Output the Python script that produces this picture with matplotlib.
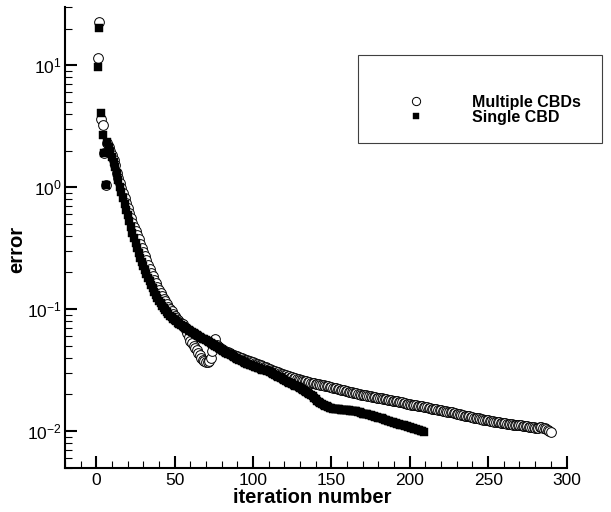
import numpy as np
import matplotlib
matplotlib.use("Agg")
import matplotlib.pyplot as plt
from matplotlib.patches import Rectangle
from matplotlib.ticker import LogLocator, MultipleLocator, NullFormatter

plt.rcParams['font.family'] = ['Liberation Sans', 'DejaVu Sans']
plt.rcParams['mathtext.fontset'] = 'custom'
plt.rcParams['mathtext.rm'] = 'Liberation Sans'
plt.rcParams['mathtext.it'] = 'Liberation Sans:italic'
plt.rcParams['mathtext.bf'] = 'Liberation Sans:bold'

# Convergence history: error per iteration
single_cbd = [
    9.8, 20.3, 4.05, 2.7, 1.9, 1.05, 2.35, 2.15, 1.95, 1.78,
    1.62, 1.47, 1.30, 1.14, 1.01, 0.91, 0.82, 0.73, 0.65, 0.59,
    0.53, 0.47, 0.42, 0.385, 0.35, 0.32, 0.29, 0.265, 0.245, 0.228,
    0.21, 0.195, 0.181, 0.169, 0.158, 0.148, 0.139, 0.130, 0.123, 0.117,
    0.112, 0.107, 0.103, 0.099, 0.095, 0.0915, 0.0885, 0.0857, 0.0832, 0.081,
    0.0792, 0.0775, 0.0758, 0.0742, 0.0727, 0.0712, 0.0698, 0.0684, 0.0671, 0.0659,
    0.0647, 0.0635, 0.0623, 0.0611, 0.0600, 0.0591, 0.0582, 0.0574, 0.0566, 0.0558,
    0.0549, 0.0539, 0.0529, 0.0518, 0.0508, 0.0498, 0.0488, 0.0478, 0.0469, 0.0460,
    0.0452, 0.0445, 0.0438, 0.0432, 0.0426, 0.0419, 0.0413, 0.0406, 0.0400, 0.0393,
    0.0386, 0.0380, 0.0374, 0.0368, 0.0362, 0.0357, 0.0352, 0.0348, 0.0345, 0.0342,
    0.0338, 0.0334, 0.0330, 0.0326, 0.0322, 0.0319, 0.0316, 0.0314, 0.0312, 0.0309,
    0.0305, 0.0300, 0.0295, 0.0290, 0.0285, 0.0280, 0.0275, 0.0270, 0.0266, 0.0262,
    0.0258, 0.0254, 0.0250, 0.0246, 0.0242, 0.0239, 0.0236, 0.0233, 0.0229, 0.0225,
    0.0222, 0.0219, 0.0215, 0.0211, 0.0207, 0.0202, 0.0197, 0.0192, 0.0187, 0.0182,
    0.0178, 0.0174, 0.0170, 0.0167, 0.0164, 0.0161, 0.0159, 0.0157, 0.0155, 0.0154,
    0.0153, 0.0152, 0.0152, 0.0151, 0.0151, 0.0150, 0.0150, 0.0149, 0.0149, 0.0148,
    0.0148, 0.0147, 0.0147, 0.0146, 0.0146, 0.0145, 0.0144, 0.0142, 0.0140, 0.0139,
    0.0139, 0.0138, 0.0137, 0.0136, 0.0135, 0.0134, 0.0133, 0.0131, 0.0130, 0.0129,
    0.0128, 0.0127, 0.0125, 0.0124, 0.0122, 0.0121, 0.0120, 0.0119, 0.0118, 0.0117,
    0.0116, 0.0115, 0.0114, 0.0113, 0.0112, 0.0111, 0.0110, 0.0109, 0.0108, 0.0107,
    0.0106, 0.0105, 0.0104, 0.0103, 0.0102, 0.0101, 0.0100, 0.0100, 0.0099,
]

multiple_cbds = [
    11.5, 22.6, 3.64, 3.25, 1.9, 1.05, 2.3, 2.15, 2.0, 1.85,
    1.68, 1.52, 1.32, 1.20, 1.08, 0.98, 0.89, 0.81, 0.74, 0.67,
    0.61, 0.56, 0.51, 0.475, 0.44, 0.405, 0.375, 0.345, 0.32, 0.295,
    0.272, 0.251, 0.232, 0.215, 0.199, 0.186, 0.174, 0.163, 0.153, 0.144,
    0.136, 0.129, 0.122, 0.116, 0.110, 0.105, 0.100, 0.096, 0.092, 0.088,
    0.085, 0.082, 0.079, 0.077, 0.075, 0.072, 0.068, 0.064, 0.059, 0.055,
    0.053, 0.050, 0.048, 0.046, 0.044, 0.042, 0.040, 0.038, 0.0372, 0.0365,
    0.0365, 0.0375, 0.040, 0.045, 0.052, 0.057, 0.051, 0.049, 0.048, 0.047,
    0.0463, 0.0456, 0.0449, 0.0442, 0.0436, 0.0430, 0.0424, 0.0419, 0.0414, 0.0410,
    0.0405, 0.0400, 0.0395, 0.0390, 0.0386, 0.0381, 0.0377, 0.0373, 0.0369, 0.0365,
    0.0361, 0.0357, 0.0353, 0.0349, 0.0345, 0.0341, 0.0337, 0.0333, 0.0329, 0.0325,
    0.0321, 0.0317, 0.0313, 0.0310, 0.0306, 0.0303, 0.0299, 0.0296, 0.0293, 0.0290,
    0.0287, 0.0284, 0.0281, 0.0278, 0.0276, 0.0273, 0.0271, 0.0268, 0.0266, 0.0263,
    0.0261, 0.0259, 0.0257, 0.0255, 0.0253, 0.0252, 0.0250, 0.0248, 0.0247, 0.0245,
    0.0243, 0.0242, 0.0240, 0.0238, 0.0237, 0.0235, 0.0234, 0.0232, 0.0231, 0.0229,
    0.0227, 0.0226, 0.0224, 0.0222, 0.0221, 0.0219, 0.0218, 0.0216, 0.0215, 0.0213,
    0.0211, 0.0210, 0.0208, 0.0207, 0.0205, 0.0204, 0.0202, 0.0201, 0.0199, 0.0198,
    0.0197, 0.0196, 0.0195, 0.0193, 0.0192, 0.0191, 0.0190, 0.0189, 0.0188, 0.0187,
    0.0186, 0.0185, 0.0184, 0.0183, 0.0182, 0.0181, 0.0180, 0.0179, 0.0178, 0.0177,
    0.0176, 0.0175, 0.0174, 0.0173, 0.0172, 0.0171, 0.0169, 0.0168, 0.0167, 0.0166,
    0.0165, 0.0164, 0.0163, 0.0162, 0.0161, 0.0161, 0.0160, 0.0159, 0.0158, 0.0157,
    0.0156, 0.0155, 0.0154, 0.0153, 0.0152, 0.0152, 0.0151, 0.0150, 0.0149, 0.0148,
    0.0147, 0.0146, 0.0145, 0.0144, 0.0143, 0.0143, 0.0142, 0.0141, 0.0140, 0.0139,
    0.0138, 0.0137, 0.0136, 0.0135, 0.0134, 0.0134, 0.0133, 0.0132, 0.0131, 0.0130,
    0.0129, 0.0128, 0.0128, 0.0127, 0.0126, 0.0125, 0.0124, 0.0124, 0.0123, 0.0122,
    0.0121, 0.0121, 0.0120, 0.0119, 0.0119, 0.0118, 0.0118, 0.0117, 0.0117, 0.0116,
    0.0116, 0.0115, 0.0115, 0.0114, 0.0114, 0.0113, 0.0113, 0.0112, 0.0112, 0.0111,
    0.0111, 0.0110, 0.0110, 0.0109, 0.0109, 0.0108, 0.0108, 0.0107, 0.0107, 0.0106,
    0.0106, 0.0106, 0.0107, 0.0107, 0.0106, 0.0105, 0.0104, 0.0102, 0.0100, 0.0098,
]

series_labels = ["Multiple CBDs", "Single CBD"]
x_ticks = [0, 50, 100, 150, 200, 250, 300]

it_single = np.arange(1, len(single_cbd) + 1)
it_multi = np.arange(1, len(multiple_cbds) + 1)

W, H = 611, 512
fig = plt.figure(figsize=(W / 100, H / 100), dpi=100)
ax = fig.add_axes([65 / W, (H - 467.7) / H, 501.5 / W, 460.4 / H])

# open circles first, filled squares drawn over them
h_multi, = ax.plot(it_multi, multiple_cbds, linestyle='none', marker='o',
                   markersize=7.0, markerfacecolor='white', markeredgecolor='black',
                   markeredgewidth=0.7, zorder=2, label=series_labels[0])
h_single, = ax.plot(it_single, single_cbd, linestyle='none', marker='s',
                    markersize=5.8, markerfacecolor='black', markeredgecolor='black',
                    markeredgewidth=0.3, zorder=3, label=series_labels[1])

ax.set_yscale('log')
ax.set_xlim(-20, 300)
ax.set_ylim(0.005, 30)

ax.set_xticks(x_ticks)
ax.xaxis.set_minor_locator(MultipleLocator(10))
ax.yaxis.set_major_locator(LogLocator(base=10, numticks=10))
ax.yaxis.set_minor_locator(LogLocator(base=10, subs=np.arange(2, 10), numticks=20))
ax.yaxis.set_minor_formatter(NullFormatter())

for side in ('top', 'right'):
    ax.spines[side].set_visible(False)
for side in ('left', 'bottom'):
    ax.spines[side].set_linewidth(1.5)

ax.tick_params(which='major', direction='in', length=8.6, width=1.5, labelsize=12.5)
ax.tick_params(which='minor', direction='in', length=5.2, width=0.8)
ax.tick_params(axis='x', which='major', pad=4.0)
ax.tick_params(axis='y', which='major', pad=2.5)

ax.set_xlabel("iteration number", fontsize=14.5, fontweight='bold')
ax.set_ylabel("error", fontsize=14.5, fontweight='bold')
ax.xaxis.set_label_coords(0.4925, -0.044)
ax.yaxis.set_label_coords(-0.077, 0.475)

# legend frame and entries
fig.patches.append(Rectangle((358 / W, 1 - 143 / H), (602 - 358) / W, (143 - 55) / H,
                             transform=fig.transFigure, fill=False,
                             edgecolor='#404040', linewidth=0.8, zorder=5))
leg = fig.legend(handles=[h_multi, h_single], loc='upper left',
                 bbox_to_anchor=(407.7 / W, 1 - 94.5 / H), frameon=False,
                 prop={'weight': 'bold', 'size': 11.5}, numpoints=1,
                 handlelength=1.0, handletextpad=3.05, borderpad=0.0,
                 labelspacing=0.02, markerscale=0.85, borderaxespad=0.0)

fig.savefig("out.png", dpi=100)
